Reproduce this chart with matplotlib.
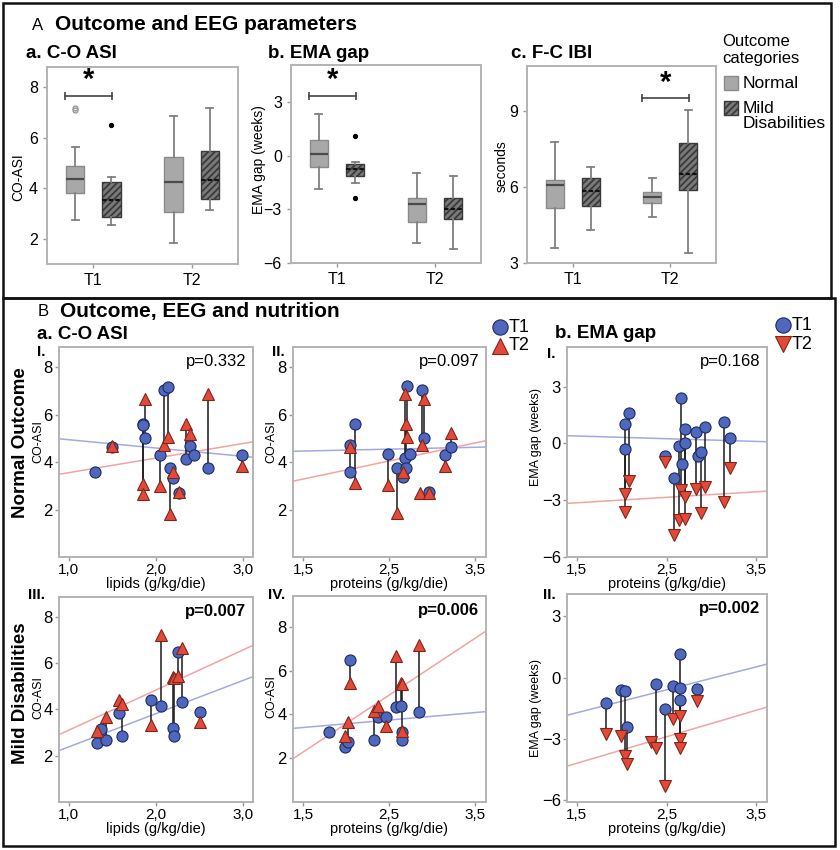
import numpy as np
import matplotlib
matplotlib.use('Agg')
import matplotlib.pyplot as plt
from matplotlib.patches import Rectangle
from matplotlib.lines import Line2D

plt.rcParams['font.family'] = ['Liberation Sans', 'DejaVu Sans']
plt.rcParams['hatch.linewidth'] = 1.3

# ---------------- A: box statistics [whislo, q1, median, q3, whishi] for T1, T2
time_labels = ['T1', 'T2']
asi_normal = [[2.75, 3.80, 4.37, 4.88, 5.64], [1.83, 3.05, 4.26, 5.25, 6.87]]
asi_mild = [[2.54, 2.88, 3.54, 4.26, 4.43], [3.12, 3.57, 4.33, 5.49, 7.16]]
asi_normal_out = [[7.18, 7.08], []]
asi_mild_out = [[6.5], []]
ema_normal = [[-1.86, -0.60, 0.11, 0.90, 2.36], [-4.88, -3.70, -2.70, -2.38, -0.98]]
ema_mild = [[-1.50, -1.13, -0.75, -0.45, -0.32], [-5.20, -3.55, -3.00, -2.35, -1.13]]
ema_normal_out = [[], []]
ema_mild_out = [[1.14, -2.38], []]
ibi_normal = [[3.59, 5.18, 6.09, 6.29, 7.81], [4.81, 5.38, 5.60, 5.80, 6.37]]
ibi_mild = [[4.31, 5.27, 5.85, 6.37, 6.82], [3.38, 5.91, 6.53, 7.74, 9.07]]
ibi_normal_out = [[], []]
ibi_mild_out = [[], []]
# significant comparison: time point index and bar height
sig_time = [1, 1, 2]
sig_level = [7.66, 3.38, 9.53]

# ---------------- B: nutrition (x), value at T1 and T2 per patient
lip_norm_x = [1.30, 1.50, 1.85, 1.855, 1.87, 2.05, 2.09, 2.135, 2.155, 2.20, 2.26, 2.345, 2.39, 2.43, 2.59, 2.98]
lip_norm_t1 = [3.60, 4.65, 5.60, 5.55, 5.03, 4.31, 7.03, 7.17, 3.74, 3.34, 2.71, 4.13, 4.67, 4.31, 3.74, 4.31]
lip_norm_t2 = [np.nan, 4.70, 3.10, 2.67, 6.67, 3.00, 4.71, 5.07, 1.81, 3.60, 2.74, 5.60, 5.20, np.nan, 6.86, 3.86]

pro_norm_x = [2.04, 2.045, 2.10, 2.49, 2.59, 2.66, 2.68, 2.70, 2.71, 2.745, 2.86, 2.88, 2.905, 2.96, 3.15, 3.22]
pro_norm_t1 = [4.71, 3.60, 5.60, 4.34, 3.74, 3.36, 4.17, 3.77, 7.20, 4.34, np.nan, 7.06, 5.03, 2.74, 4.29, 4.64]
pro_norm_t2 = [np.nan, 4.64, 3.13, 3.03, 1.84, 3.60, 6.89, 5.60, 5.07, np.nan, 2.70, 4.71, 6.67, 2.70, 3.86, 5.24]

ema_norm_x = [2.036, 2.04, 2.08, 2.48, 2.586, 2.635, 2.665, 2.67, 2.71, 2.71, 2.83, 2.856, 2.886, 2.934, 3.137, 3.204]
ema_norm_t1 = [1.02, -0.30, 1.59, -0.65, -1.82, -0.14, 2.38, -1.06, 0.79, 0.00, 0.62, -0.65, -0.44, 0.85, 1.15, 0.30]
ema_norm_t2 = [-3.62, -2.68, -1.99, -0.97, -4.85, -4.06, -2.47, np.nan, -2.82, -3.97, -2.42, np.nan, -3.65, -2.29, -3.09, -1.29]

lip_mild_x = [1.32, 1.37, 1.43, 1.58, 1.61, 1.945, 2.06, 2.19, 2.21, 2.25, 2.30, 2.50]
lip_mild_t1 = [2.53, 3.15, 2.69, 3.84, 2.86, 4.40, 4.15, 3.18, 2.86, 6.50, 4.34, 3.87]
lip_mild_t2 = [3.05, np.nan, 3.68, 4.40, 4.23, 3.34, 7.20, 5.42, 5.35, 5.45, 6.67, 3.47]

pro_mild_x = [1.80, 1.985, 2.02, 2.05, 2.32, 2.37, 2.47, 2.58, 2.64, 2.645, 2.65, 2.85]
pro_mild_t1 = [3.18, 2.50, 2.73, 6.48, 2.83, 3.86, 3.89, 4.32, 4.39, 3.18, 2.85, 4.12]
pro_mild_t2 = [np.nan, 3.03, 3.64, 5.45, 4.17, 4.39, 3.48, 6.64, 5.45, 5.38, 3.26, 7.15]

ema_mild_x = [1.82, 1.995, 2.04, 2.06, 2.33, 2.38, 2.48, 2.57, 2.645, 2.645, 2.65, 2.84]
ema_mild_t1 = [-1.23, -0.62, -0.66, -2.43, np.nan, -0.33, -1.52, -0.41, 1.15, -0.49, -1.08, -0.54]
ema_mild_t2 = [-2.75, -2.84, -3.82, -4.23, -3.16, -3.46, -5.30, -2.05, -3.00, -3.44, -1.89, -1.16]

# regression lines (intercept, slope) for T1 and T2
fit_t1 = {'I': (5.30, -0.351), 'II': (4.35, 0.08), 'bI': (0.61, -0.143),
          'III': (0.94, 1.44), 'IV': (2.89, 0.34), 'bII': (-3.41, 1.125)}
fit_t2 = {'I': (2.94, 0.617), 'II': (2.15, 0.76), 'bI': (-3.57, 0.29),
          'III': (1.36, 1.74), 'IV': (-1.60, 2.59), 'bII': (-6.15, 1.30)}
p_values = {'I': 'p=0.332', 'II': 'p=0.097', 'bI': 'p=0.168',
            'III': 'p=0.007', 'IV': 'p=0.006', 'bII': 'p=0.002'}

lip_ticks = [1.0, 2.0, 3.0]
lip_ticklabels = ['1,0', '2,0', '3,0']
pro_ticks = [1.5, 2.5, 3.5]
pro_ticklabels = ['1,5', '2,5', '3,5']

W, H = 840, 850
fig = plt.figure(figsize=(W / 100, H / 100), dpi=100)


def fx(x):
    return x / W


def fy(y):
    return 1 - y / H


def px_axes(x0, y0, x1, y1):
    return fig.add_axes([fx(x0), fy(y1), (x1 - x0) / W, (y1 - y0) / H])


FRAME = '#b3b3b3'


def style(ax, size=11):
    for s in ax.spines.values():
        s.set_color(FRAME)
        s.set_linewidth(1.4)
    ax.tick_params(colors='#9a9a9a', labelcolor='black', labelsize=size, length=3, width=1)


# outer frames
fig.add_artist(Rectangle((fx(3), fy(298)), 828 / W, 295 / H, fill=False, lw=1.8,
                         ec='#111111', transform=fig.transFigure))
fig.add_artist(Rectangle((fx(3), fy(846)), 832 / W, 548 / H, fill=False, lw=1.8,
                         ec='#111111', transform=fig.transFigure))

# ---------------- Part A
fig.text(fx(32), fy(25), 'A', fontsize=12, va='center')
fig.text(fx(55), fy(24), 'Outcome and EEG parameters', fontsize=15, fontweight='bold', va='center')


def stats(v, out):
    return dict(whislo=v[0], q1=v[1], med=v[2], q3=v[3], whishi=v[4], fliers=out)


def draw_boxes(ax, normal, mild, nout, mout):
    for i in range(2):
        ax.bxp([stats(normal[i], nout[i])], positions=[i + 1 - 0.185], widths=0.19,
               capwidths=0.07, patch_artist=True,
               boxprops=dict(facecolor='#a8a8a8', edgecolor='#8a8a8a', lw=1),
               medianprops=dict(color='#4a4a4a', lw=1.6),
               whiskerprops=dict(color='#808080', lw=1.3),
               capprops=dict(color='#808080', lw=1.3),
               flierprops=dict(marker='o', mfc='none', mec='#9a9a9a', ms=3.5))
        ax.bxp([stats(mild[i], mout[i])], positions=[i + 1 + 0.185], widths=0.19,
               capwidths=0.07, patch_artist=True,
               boxprops=dict(facecolor='#7a7a7a', edgecolor='#3a3a3a', lw=1, hatch='/////'),
               medianprops=dict(color='#111111', lw=1.6, ls=(0, (2, 1))),
               whiskerprops=dict(color='#808080', lw=1.3),
               capprops=dict(color='#808080', lw=1.3),
               flierprops=dict(marker='o', mfc='black', mec='black', ms=2.8))


box_panels = [
    ((47, 67, 238, 264), asi_normal, asi_mild, asi_normal_out, asi_mild_out, (1.0, 8.8), [2, 4, 6, 8],
     'a. C-O ASI', 26, 'CO-ASI', -0.15, 0.44),
    ((291, 65, 481, 263), ema_normal, ema_mild, ema_normal_out, ema_mild_out, (-6, 5.1), [-6, -3, 0, 3],
     'b. EMA gap', 268, 'EMA gap (weeks)', -0.168, 0.52),
    ((527, 66, 716, 263), ibi_normal, ibi_mild, ibi_normal_out, ibi_mild_out, (3, 10.8), [3, 6, 9],
     'c. F-C IBI', 511, 'seconds', -0.135, 0.49),
]
for k, (rect, nb, mb, no, mo, ylim, yt, title, tx, ylab, lx, ly) in enumerate(box_panels):
    ax = px_axes(*rect)
    draw_boxes(ax, nb, mb, no, mo)
    ax.set_xlim(0.53, 2.47)
    ax.set_ylim(*ylim)
    ax.set_yticks(yt)
    ax.set_xticks([1, 2])
    ax.set_xticklabels(time_labels)
    style(ax, 11.5)
    ax.text(lx, ly, ylab, transform=ax.transAxes, rotation=90, fontsize=10,
            ha='center', va='center')
    fig.text(fx(tx), fy(53), title, fontsize=13.5, fontweight='bold', va='center')
    t = sig_time[k]
    ax.plot([t - 0.29, t + 0.19], [sig_level[k]] * 2, color='#444444', lw=1.2,
            marker='|', ms=6, mew=1.2)
    ax.annotate('*', (t - 0.05, sig_level[k]), xytext=(0, 1), textcoords='offset points',
                ha='center', va='bottom', fontsize=21, fontweight='bold')

# legend of part A
fig.text(fx(722), fy(50), 'Outcome\ncategories', fontsize=12, va='center', linespacing=1.1)
fig.add_artist(Rectangle((fx(724), fy(90)), 14 / W, 14 / H, fc='#a8a8a8', ec='#8a8a8a',
                         lw=1, transform=fig.transFigure))
fig.add_artist(Rectangle((fx(724), fy(115)), 14 / W, 14 / H, fc='#7a7a7a', ec='#3a3a3a',
                         lw=1, hatch='/////', transform=fig.transFigure))
fig.text(fx(743), fy(83), 'Normal', fontsize=12.5, va='center')
fig.text(fx(743), fy(116), 'Mild\nDisabilities', fontsize=12.5, va='center', linespacing=1.05)

# ---------------- Part B
fig.text(fx(38), fy(311), 'B', fontsize=12, va='center')
fig.text(fx(60), fy(311), 'Outcome, EEG and nutrition', fontsize=15, fontweight='bold', va='center')
fig.text(fx(37), fy(335), 'a. C-O ASI', fontsize=13.5, fontweight='bold', va='center')
fig.text(fx(555), fy(333), 'b. EMA gap', fontsize=13.5, fontweight='bold', va='center')
fig.text(fx(21), fy(443), 'Normal Outcome', fontsize=13.5, fontweight='bold', rotation=90,
         ha='center', va='center')
fig.text(fx(21), fy(693), 'Mild Disabilities', fontsize=13.5, fontweight='bold', rotation=90,
         ha='center', va='center')

BLUE, BLUE_E = '#4f67bd', '#1d2b5e'
RED, RED_E = '#e4483a', '#7a2818'

scatter_panels = [
    ('I', (59, 347, 253, 557), lip_norm_x, lip_norm_t1, lip_norm_t2, (0.89, 3.11), (0, 8.86),
     lip_ticks, lip_ticklabels, [2, 4, 6, 8], 'lipids (g/kg/die)', 'CO-ASI', '^', (37, 352), 0.55),
    ('II', (293, 347, 486, 557), pro_norm_x, pro_norm_t1, pro_norm_t2, (1.38, 3.63), (0, 8.86),
     pro_ticks, pro_ticklabels, [2, 4, 6, 8], 'proteins (g/kg/die)', 'CO-ASI', '^', (272, 352), 0.55),
    ('bI', (567, 347, 767, 557), ema_norm_x, ema_norm_t1, ema_norm_t2, (1.39, 3.62), (-6, 5.1),
     pro_ticks, pro_ticklabels, [-6, -3, 0, 3], 'proteins (g/kg/die)', 'EMA gap (weeks)', 'v',
     (547, 354), 0.57),
    ('III', (59, 597, 253, 802), lip_mild_x, lip_mild_t1, lip_mild_t2, (0.89, 3.11), (0, 8.86),
     lip_ticks, lip_ticklabels, [2, 4, 6, 8], 'lipids (g/kg/die)', 'CO-ASI', '^', (28, 595), 0.51),
    ('IV', (293, 596, 486, 802), pro_mild_x, pro_mild_t1, pro_mild_t2, (1.38, 3.63), (0, 9.4),
     pro_ticks, pro_ticklabels, [2, 4, 6, 8], 'proteins (g/kg/die)', 'CO-ASI', '^', (268, 595), 0.51),
    ('bII', (567, 594, 767, 802), ema_mild_x, ema_mild_t1, ema_mild_t2, (1.39, 3.62), (-6.1, 4.1),
     pro_ticks, pro_ticklabels, [-6, -3, 0, 3], 'proteins (g/kg/die)', 'EMA gap (weeks)', 'v',
     (543, 595), 0.45),
]
roman = {'I': 'I.', 'II': 'II.', 'bI': 'I.', 'III': 'III.', 'IV': 'IV.', 'bII': 'II.'}

for key, rect, x, t1, t2, xlim, ylim, xt, xtl, yt, xlab, ylab, tri, lab_pos, ly in scatter_panels:
    ax = px_axes(*rect)
    x = np.array(x)
    t1 = np.array(t1)
    t2 = np.array(t2)
    ok = ~np.isnan(t1) & ~np.isnan(t2)
    ax.vlines(x[ok], t1[ok], t2[ok], color='#1a1a1a', lw=1.1, zorder=2)
    ax.axline((0, fit_t1[key][0]), slope=fit_t1[key][1], color='#a3aae0', lw=1.1, zorder=1)
    ax.axline((0, fit_t2[key][0]), slope=fit_t2[key][1], color='#f1a4a2', lw=1.1, zorder=1)
    ax.plot(x, t1, 'o', ms=8, mfc=BLUE, mec=BLUE_E, mew=0.8, zorder=3)
    ax.plot(x, t2, tri, ms=8, mfc=RED, mec=RED_E, mew=0.8, zorder=4)
    ax.set_xlim(*xlim)
    ax.set_ylim(*ylim)
    ax.set_xticks(xt)
    ax.set_xticklabels(xtl)
    ax.set_yticks(yt)
    style(ax, 12)
    ax.tick_params(axis='x', labelsize=11, pad=1)
    ax.tick_params(axis='y', pad=1.5)
    bold = key in ('III', 'IV', 'bII')
    ax.text(0.965, 0.93, p_values[key], transform=ax.transAxes, ha='right', va='center',
            fontsize=12, fontweight='bold' if bold else 'normal')
    h = rect[3] - rect[1]
    ax.text(0.5, -27 / h, xlab, transform=ax.transAxes, ha='center', va='center', fontsize=10.5)
    w = rect[2] - rect[0]
    lx = {'CO-ASI': (38 if key in ('I', 'III') else 271) - rect[0]}.get(ylab, 536 - rect[0])
    ax.text(lx / w, ly, ylab, transform=ax.transAxes, rotation=90, ha='center', va='center',
            fontsize=9)
    fig.text(fx(lab_pos[0]), fy(lab_pos[1]), roman[key], fontsize=11, fontweight='bold',
             va='center')

# legends of part B
for (cx, ty), tri in [((500, 327), '^'), ((783, 325), 'v')]:
    fig.add_artist(Line2D([fx(cx)], [fy(ty)], marker='o', ms=11, mfc=BLUE, mec=BLUE_E,
                          mew=0.8, transform=fig.transFigure))
    fig.add_artist(Line2D([fx(cx)], [fy(ty + 19)], marker=tri, ms=11, mfc=RED, mec=RED_E,
                          mew=0.8, transform=fig.transFigure))
    fig.text(fx(cx + 9), fy(ty), 'T1', fontsize=13, va='center')
    fig.text(fx(cx + 9), fy(ty + 19), 'T2', fontsize=13, va='center')

fig.savefig('out.png', dpi=100)
